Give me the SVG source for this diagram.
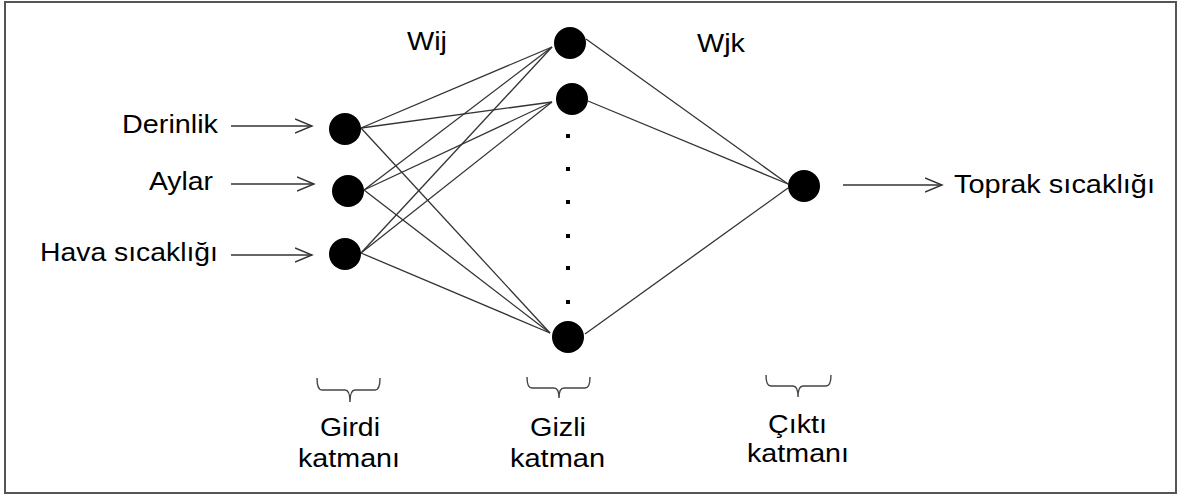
<svg xmlns="http://www.w3.org/2000/svg" width="1183" height="495" viewBox="0 0 1183 495">
<style>
text{font-family:"Liberation Sans",Arial,sans-serif;font-size:25px;fill:#000}
.c{fill:#000}
.w{stroke:#333;stroke-width:1.3;fill:none}
.a{stroke:#333;stroke-width:1.4;fill:none}
.b{stroke:#444;stroke-width:1.4;fill:none}
</style>
<defs>
<marker id="arr" markerUnits="userSpaceOnUse" markerWidth="20" markerHeight="18" refX="17" refY="8" orient="auto">
<path d="M0,1 L17,8 L0,15" fill="none" stroke="#333" stroke-width="1.4"/>
</marker>
</defs>
<rect x="5" y="2" width="1171" height="491" fill="#fff" stroke="#555" stroke-width="2"/>
<g id="connectors">
<line class="w" x1="361" y1="128" x2="552" y2="47"/>
<line class="w" x1="361" y1="128" x2="552" y2="102"/>
<line class="w" x1="361" y1="128" x2="550" y2="333"/>
<line class="w" x1="364" y1="190" x2="552" y2="47"/>
<line class="w" x1="364" y1="190" x2="552" y2="102"/>
<line class="w" x1="364" y1="190" x2="550" y2="333"/>
<line class="w" x1="361" y1="253" x2="552" y2="47"/>
<line class="w" x1="361" y1="253" x2="552" y2="102"/>
<line class="w" x1="361" y1="253" x2="550" y2="333"/>
<line class="w" x1="586" y1="39" x2="788" y2="184"/>
<line class="w" x1="588" y1="101" x2="788" y2="184"/>
<line class="w" x1="585" y1="334" x2="788" y2="188"/>
<line class="a" x1="231" y1="126" x2="312" y2="126" marker-end="url(#arr)"/>
<line class="a" x1="231" y1="184" x2="314" y2="184" marker-end="url(#arr)"/>
<line class="a" x1="231" y1="255" x2="312" y2="255" marker-end="url(#arr)"/>
<line class="a" x1="843" y1="185" x2="942" y2="185" marker-end="url(#arr)"/>
</g>
<g id="input-derinlik"><circle class="c" cx="345" cy="129" r="16"/><text x="122" y="133" textLength="96" lengthAdjust="spacingAndGlyphs">Derinlik</text></g>
<g id="input-aylar"><circle class="c" cx="348" cy="191" r="16"/><text x="149" y="190" textLength="64" lengthAdjust="spacingAndGlyphs">Aylar</text></g>
<g id="input-hava"><circle class="c" cx="345" cy="254" r="16"/><text x="40" y="261" textLength="178" lengthAdjust="spacingAndGlyphs">Hava sıcaklığı</text></g>
<g id="hidden-1"><circle class="c" cx="570" cy="43" r="16"/></g>
<g id="hidden-2"><circle class="c" cx="572" cy="99" r="16"/></g>
<g id="hidden-n"><circle class="c" cx="568" cy="337" r="16"/></g>
<g id="hidden-dots">
<rect class="c" x="566" y="134" width="4" height="4"/>
<rect class="c" x="566" y="167" width="4" height="4"/>
<rect class="c" x="566" y="200" width="4" height="4"/>
<rect class="c" x="566" y="234" width="4" height="4"/>
<rect class="c" x="566" y="266" width="4" height="4"/>
<rect class="c" x="566" y="300" width="4" height="4"/>
</g>
<g id="output"><circle class="c" cx="804" cy="186" r="16"/><text x="954" y="193" textLength="201" lengthAdjust="spacingAndGlyphs">Toprak sıcaklığı</text></g>
<g id="weights">
<text x="407" y="50" textLength="40" lengthAdjust="spacingAndGlyphs">Wij</text>
<text x="697" y="52" textLength="48" lengthAdjust="spacingAndGlyphs">Wjk</text>
</g>
<g id="label-girdi">
<path class="b" d="M317,378 Q317,390 322,390 L345,390 Q350,390 350,402 Q350,390 355,390 L375,390 Q380,390 380,378"/>
<text x="320" y="436" textLength="60" lengthAdjust="spacingAndGlyphs">Girdi</text>
<text x="298" y="467" textLength="102" lengthAdjust="spacingAndGlyphs">katmanı</text>
</g>
<g id="label-gizli">
<path class="b" d="M527,377 Q527,388 532,388 L554,388 Q559,388 559,398 Q559,388 564,388 L585,388 Q590,388 590,377"/>
<text x="530" y="436" textLength="56" lengthAdjust="spacingAndGlyphs">Gizli</text>
<text x="510" y="467" textLength="95" lengthAdjust="spacingAndGlyphs">katman</text>
</g>
<g id="label-cikti">
<path class="b" d="M766,375 Q766,386 771,386 L793,386 Q798,386 798,397 Q798,386 803,386 L826,386 Q831,386 831,375"/>
<text x="768" y="433" textLength="59" lengthAdjust="spacingAndGlyphs">Çıktı</text>
<text x="747" y="462" textLength="102" lengthAdjust="spacingAndGlyphs">katmanı</text>
</g>
</svg>
